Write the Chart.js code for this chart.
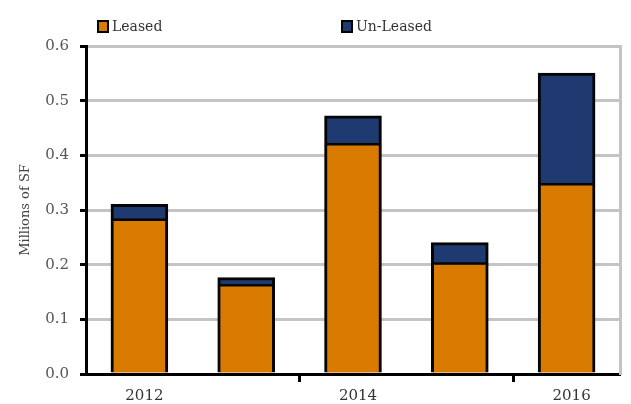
<!DOCTYPE html>
<html>
<head>
<meta charset="utf-8">
<script src="https://cdn.jsdelivr.net/npm/chart.js@4.4.1/dist/chart.umd.min.js"></script>
<style>
  html, body { margin: 0; padding: 0; background: #fff; }
  #wrap { position: relative; width: 631px; height: 404px; }
  #legend { position: absolute; top: 12px; left: 0; width: 631px; height: 24px;
    font-family: "DejaVu Serif", serif; font-size: 14px; color: #333; }
  .item { position: absolute; top: 6px; display: flex; align-items: center; }
  .box { width: 8px; height: 9px; border: 2px solid #000; margin-right: 3px; }
</style>
</head>
<body>
<div id="wrap">
  <canvas id="chart" width="631" height="404"></canvas>
  <div id="legend"></div>
</div>
<script>
const years = ["2012", "2013", "2014", "2015", "2016"];
const leased = [0.28, 0.16, 0.418, 0.20, 0.345];
const unLeased = [0.03, 0.016, 0.054, 0.04, 0.205];
const yTicks = [0, 0.1, 0.2, 0.3, 0.4, 0.5, 0.6];

const orange = "#D97B00";
const navy = "#1F3A70";
const gridGray = "#c4c4c4";
const serif = "'DejaVu Serif', serif";

const chart = new Chart(document.getElementById("chart"), {
  type: "bar",
  data: {
    labels: years,
    datasets: [
      {
        label: "Leased",
        data: leased,
        backgroundColor: orange,
        borderColor: "#050505",
        borderWidth: { left: 3, right: 3, top: 0, bottom: 0 },
        borderSkipped: false,
        inflateAmount: 0.5,
      },
      {
        label: "Un-Leased",
        data: unLeased,
        backgroundColor: navy,
        borderColor: "#050505",
        borderWidth: 3,
        borderSkipped: false,
        inflateAmount: 0.5,
      },
    ],
  },
  options: {
    responsive: false,
    animation: false,
    layout: { padding: { top: 46, right: 11, bottom: 0, left: 0 } },
    plugins: { legend: { display: false }, tooltip: { enabled: false } },
    datasets: { bar: { categoryPercentage: 1, barPercentage: 0.53 } },
    scales: {
      x: {
        stacked: true,
        grid: {
          offset: true,
          drawOnChartArea: false,
          tickLength: 8,
          tickWidth: 3,
          tickColor: (ctx) => (ctx.index === 2 || ctx.index === 4 ? "#000" : "rgba(0,0,0,0)"),
        },
        border: { display: true, color: "#000", width: 3 },
        ticks: {
          autoSkip: false,
          maxRotation: 0,
          padding: 5,
          labelOffset: 5,
          color: "#333",
          font: { family: serif, size: 15 },
          callback: (v, i) => (i % 2 === 0 ? years[i] : ""),
        },
        afterFit: (scale) => { scale.height = 30; },
      },
      y: {
        stacked: true,
        min: 0,
        max: 0.6,
        afterBuildTicks: (scale) => { scale.ticks = yTicks.map((v) => ({ value: v })); },
        grid: {
          color: (ctx) => (ctx.index === 0 ? "rgba(0,0,0,0)" : gridGray),
          lineWidth: 3,
          tickLength: 6,
          tickWidth: 3,
          tickColor: "#000",
        },
        border: { display: true, color: "#000", width: 3 },
        ticks: {
          padding: 11,
          color: "#555",
          font: { family: serif, size: 15 },
          callback: (v) => Number(v).toFixed(1),
        },
        title: {
          display: true,
          text: "Millions of SF",
          color: "#444",
          padding: { top: 18, bottom: 0 },
          font: { family: serif, size: 13 },
        },
        afterFit: (scale) => { scale.width = 86; },
      },
      y2: {
        position: "right",
        min: 0,
        max: 0.6,
        grid: { display: false },
        ticks: { display: false },
        border: { display: true, color: gridGray, width: 3 },
        afterFit: (scale) => { scale.width = 0; },
      },
    },
  },
});

// html legend built from the datasets
const legendEl = document.getElementById("legend");
const legendX = [97, 341];
chart.data.datasets.forEach((ds, i) => {
  const item = document.createElement("div");
  item.className = "item";
  item.style.left = legendX[i] + "px";
  const box = document.createElement("span");
  box.className = "box";
  box.style.background = ds.backgroundColor;
  const text = document.createElement("span");
  text.textContent = ds.label;
  item.append(box, text);
  legendEl.append(item);
});
</script>
</body>
</html>
